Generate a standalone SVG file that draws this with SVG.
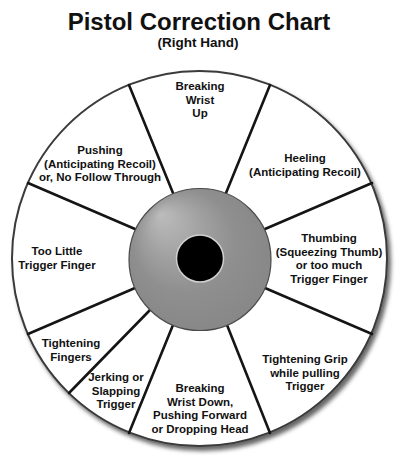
<svg xmlns="http://www.w3.org/2000/svg" width="400" height="475" viewBox="0 0 400 475">
<style>
text{font-family:"Liberation Sans",Arial,sans-serif;font-weight:bold;fill:#111;text-anchor:middle}
.lbl{font-size:11.5px}
.spoke{stroke:#151515;stroke-width:2.6;stroke-linecap:round}
</style>
<defs>
<filter id="sh" x="-10%" y="-10%" width="125%" height="125%">
<feGaussianBlur in="SourceAlpha" stdDeviation="2"/>
<feOffset dx="2.5" dy="3.5" result="b"/>
<feFlood flood-color="#000" flood-opacity="0.6"/>
<feComposite in2="b" operator="in"/>
<feMerge><feMergeNode/><feMergeNode in="SourceGraphic"/></feMerge>
</filter>
<radialGradient id="hubg" cx="0.5" cy="0.5" r="0.6" fx="0.22" fy="0.18">
<stop offset="0" stop-color="#bcbcbc"/>
<stop offset="0.35" stop-color="#a0a0a0"/>
<stop offset="0.6" stop-color="#8f8f8f"/>
<stop offset="1" stop-color="#858585"/>
</radialGradient>
</defs>
<rect width="400" height="475" fill="#fff"/>
<text x="199" y="30" font-size="24">Pistol Correction Chart</text>
<text x="198" y="47" font-size="13.5">(Right Hand)</text>
<g id="wheel">
<circle cx="199.5" cy="258.5" r="187.5" fill="#fff" stroke="#3a3a3a" stroke-width="2" filter="url(#sh)"/>
</g>
<g id="connectors">
<line class="spoke" x1="129" y1="85" x2="173" y2="193"/>
<line class="spoke" x1="270" y1="85" x2="226" y2="193"/>
<line class="spoke" x1="28" y1="183" x2="135" y2="229"/>
<line class="spoke" x1="372" y1="183" x2="265" y2="229"/>
<line class="spoke" x1="28" y1="334" x2="135" y2="288"/>
<line class="spoke" x1="69" y1="393" x2="150" y2="310"/>
<line class="spoke" x1="129" y1="433" x2="173" y2="325"/>
<line class="spoke" x1="270" y1="433" x2="227" y2="325"/>
<line class="spoke" x1="372" y1="334" x2="265" y2="288"/>
</g>
<g id="hub">
<circle cx="200" cy="259.5" r="71" fill="url(#hubg)" stroke="#4a4a4a" stroke-width="1.2"/>
<circle cx="200" cy="258.5" r="23.5" fill="#000" stroke="#cfcfcf" stroke-width="1.5"/>
</g>
<g id="n-breaking-up" class="lbl"><text x="200" y="90">Breaking</text><text x="200" y="104">Wrist</text><text x="200" y="117">Up</text></g>
<g id="n-heeling" class="lbl"><text x="305" y="162">Heeling</text><text x="305" y="175.5">(Anticipating Recoil)</text></g>
<g id="n-thumbing" class="lbl"><text x="329" y="242">Thumbing</text><text x="329" y="255.5">(Squeezing Thumb)</text><text x="329" y="269">or too much</text><text x="329" y="282.5">Trigger Finger</text></g>
<g id="n-grip" class="lbl"><text x="305" y="363">Tightening Grip</text><text x="305" y="376.5">while pulling</text><text x="305" y="390">Trigger</text></g>
<g id="n-breaking-down" class="lbl"><text x="200" y="392">Breaking</text><text x="200" y="405.5">Wrist Down,</text><text x="200" y="419">Pushing Forward</text><text x="200" y="432.5">or Dropping Head</text></g>
<g id="n-jerking" class="lbl"><text x="116" y="381">Jerking or</text><text x="116" y="394.5">Slapping</text><text x="116" y="408">Trigger</text></g>
<g id="n-fingers" class="lbl"><text x="71" y="347">Tightening</text><text x="71" y="361">Fingers</text></g>
<g id="n-little" class="lbl"><text x="57" y="255">Too Little</text><text x="57" y="268.5">Trigger Finger</text></g>
<g id="n-pushing" class="lbl"><text x="100" y="154">Pushing</text><text x="100" y="167.5">(Anticipating Recoil)</text><text x="100" y="181">or, No Follow Through</text></g>
</svg>
